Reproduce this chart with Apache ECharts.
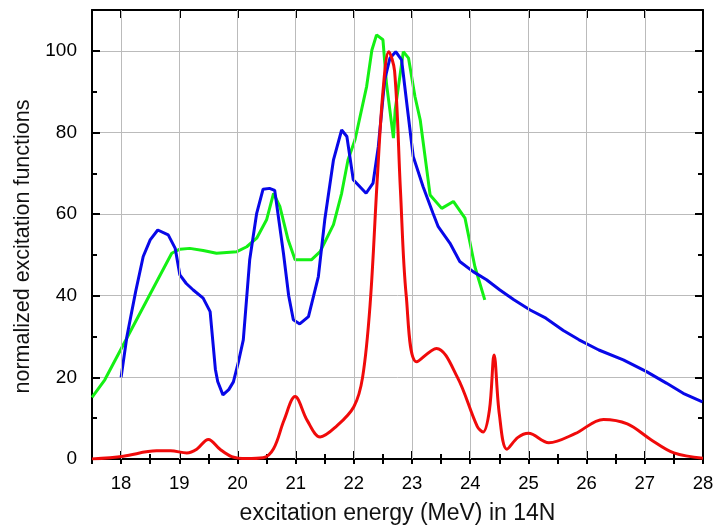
<!DOCTYPE html>
<html>
<head>
<meta charset="utf-8">
<script src="https://cdn.jsdelivr.net/npm/echarts@6/dist/echarts.min.js"></script>
<style>html,body{margin:0;padding:0;background:#fff;}#c{width:717px;height:526px;}</style>
</head>
<body>
<div id="c"></div>
<script>
// ---- data ----
const xTicks = [18, 19, 20, 21, 22, 23, 24, 25, 26, 27, 28];
const xGridLines = [18, 19, 20, 21, 22, 23, 24, 25, 26, 27];
const yTicks = [0, 20, 40, 60, 80, 100];

const blueEnergy = [18.0,18.1,18.25,18.38,18.5,18.63,18.81,18.93,19.01,19.12,19.24,19.41,19.53,19.62,19.66,19.75,19.85,19.93,20.02,20.1,20.21,20.33,20.44,20.55,20.64,20.79,20.88,20.96,21.07,21.22,21.39,21.5,21.65,21.79,21.88,21.99,22.21,22.33,22.42,22.53,22.62,22.72,22.82,22.93,23.02,23.19,23.36,23.45,23.65,23.82,24.05,24.28,24.51,24.75,25.03,25.3,25.6,25.87,26.21,26.63,27.03,27.37,27.66,27.99];
const blueValues = [20,30,41,49.6,53.7,56.1,54.9,51.6,45.1,43,41.4,39.4,36.1,22,19,15.7,17,18.9,24,29.2,48.8,60.2,66.1,66.3,65.8,50.4,40,34.1,33.1,34.9,44.7,58.6,73.3,80.6,79,68.4,65.1,67.6,76.5,92.9,98.2,99.8,97.8,84.7,74.1,66.7,60.2,56.9,52.9,48.4,45.9,43.9,41.4,39,36.5,34.5,31.5,29.2,26.7,24.3,21.4,18.6,16.1,14.0];

const greenEnergy = [17.5,17.72,18.87,19.01,19.18,19.41,19.64,19.99,20.16,20.33,20.5,20.62,20.73,20.87,20.99,21.27,21.42,21.65,21.79,21.9,22.02,22.22,22.31,22.39,22.5,22.56,22.68,22.71,22.85,22.94,23.05,23.14,23.31,23.51,23.71,23.91,24.08,24.25];
const greenValues = [15.1,19.4,50.4,51.4,51.6,51.1,50.4,50.8,52,54.1,58.6,65.1,61.8,53.7,48.8,48.8,50.8,57.4,65.1,73.3,78.2,91.3,100.2,103.9,102.7,92.1,78.6,85.5,99.8,98.2,88.8,83.1,64.7,61.4,63.1,59,47.1,39];

const redEnergy = [17.5,18.04,18.61,18.85,19.13,19.3,19.5,19.7,19.9,20.15,20.44,20.62,20.8,20.99,21.2,21.42,21.7,22.0,22.15,22.28,22.4,22.5,22.6,22.7,22.8,22.9,23.08,23.42,23.78,24.12,24.22,24.33,24.41,24.5,24.63,24.82,25.0,25.35,25.8,26.29,26.7,27.1,27.5,28.0];
const redValues = [0,0.7,2.0,2.0,1.5,2.4,4.8,2.4,0.6,0.1,0.3,2.5,9.5,15.3,9.4,5.4,8.0,12.8,20,38,68,90,99.8,95,66,40,23.8,27.1,20,8,6.6,12,25.5,11,2.4,5.3,6.3,4,6.2,9.7,8.6,4.8,1.5,0.2];

const zip = (a, b) => a.map((v, i) => [v, b[i]]);

const FONT = 'Liberation Sans, Arial, sans-serif';
const X_MIN = 17.5, X_MAX = 28, Y_MIN = 0, Y_MAX = 110;

const chart = echarts.init(document.getElementById('c'), null, {renderer: 'canvas'});

function xAx(opts) {
  return Object.assign({
    type: 'value', min: X_MIN, max: X_MAX, gridIndex: 0,
    axisLine: {show: false}, axisLabel: {show: false},
    axisTick: {show: false}, splitLine: {show: false}
  }, opts);
}
function yAx(opts) {
  return Object.assign({
    type: 'value', min: Y_MIN, max: Y_MAX, gridIndex: 0,
    axisLine: {show: false}, axisLabel: {show: false},
    axisTick: {show: false}, splitLine: {show: false}
  }, opts);
}

const option = {
  backgroundColor: '#fff',
  animation: false,
  grid: {left: 92, right: 14, top: 10, bottom: 67, containLabel: false, outerBoundsMode: 'none'},
  xAxis: [
    xAx({
      position: 'bottom',
      name: 'excitation energy (MeV) in 14N',
      nameLocation: 'middle', nameGap: 43,
      nameTextStyle: {fontFamily: FONT, fontSize: 23, color: '#111'},
      axisLine: {show: true, onZero: false, lineStyle: {color: '#000', width: 2}},
      axisTick: {show: true, inside: true, length: 8, customValues: xTicks, lineStyle: {color: '#000', width: 2}},
      axisLabel: {show: true, customValues: xTicks, margin: 15, fontFamily: FONT, fontSize: 18.5, color: '#000'}
    }),
    xAx({
      position: 'bottom', interval: 0.5,
      axisTick: {show: true, inside: true, length: 5, lineStyle: {color: '#000', width: 2}}
    }),
    xAx({
      position: 'top',
      axisLine: {show: true, onZero: false, lineStyle: {color: '#000', width: 2}},
      axisTick: {show: true, inside: true, length: 8, customValues: xTicks, lineStyle: {color: '#000', width: 2}}
    }),
    xAx({
      position: 'top', interval: 0.5,
      axisTick: {show: true, inside: true, length: 5, lineStyle: {color: '#000', width: 2}}
    })
  ],
  yAxis: [
    yAx({
      position: 'left', interval: 20,
      name: 'normalized excitation functions',
      nameLocation: 'middle', nameGap: 58,
      nameTextStyle: {fontFamily: FONT, fontSize: 21.5, color: '#111', padding: [0, 24, 0, 0]},
      axisLine: {show: true, onZero: false, lineStyle: {color: '#000', width: 2}},
      axisTick: {show: true, inside: true, length: 8, lineStyle: {color: '#000', width: 2}},
      axisLabel: {show: true, margin: 15, fontFamily: FONT, fontSize: 19, color: '#000',
        formatter: v => (yTicks.indexOf(v) >= 0 ? String(v) : '')},
      splitLine: {show: true, lineStyle: {color: '#bbb', width: 1}}
    }),
    yAx({
      position: 'left', interval: 10,
      axisTick: {show: true, inside: true, length: 5, lineStyle: {color: '#000', width: 2}}
    }),
    yAx({
      position: 'right', interval: 20,
      axisLine: {show: true, onZero: false, lineStyle: {color: '#000', width: 2}},
      axisTick: {show: true, inside: true, length: 8, lineStyle: {color: '#000', width: 2}}
    }),
    yAx({
      position: 'right', interval: 10,
      axisTick: {show: true, inside: true, length: 5, lineStyle: {color: '#000', width: 2}}
    })
  ],
  series: [
    {type: 'line', name: 'grid', xAxisIndex: 0, yAxisIndex: 0, data: [], z: 1, silent: true,
      markLine: {silent: true, symbol: 'none', label: {show: false}, animation: false,
        lineStyle: {color: '#bbb', width: 1, type: 'solid'},
        data: xGridLines.map(v => ({xAxis: v}))}},
    {type: 'line', name: 'green', xAxisIndex: 0, yAxisIndex: 0, data: zip(greenEnergy, greenValues),
      showSymbol: false, smooth: false, lineStyle: {color: '#14f014', width: 3}, z: 3},
    {type: 'line', name: 'blue', xAxisIndex: 0, yAxisIndex: 0, data: zip(blueEnergy, blueValues),
      showSymbol: false, smooth: false, lineStyle: {color: '#0808e8', width: 3}, z: 4},
    {type: 'line', name: 'red', xAxisIndex: 0, yAxisIndex: 0, data: zip(redEnergy, redValues),
      showSymbol: false, smooth: 0.35, lineStyle: {color: '#f00a0a', width: 3}, z: 5}
  ]
};
chart.setOption(option);
</script>
</body>
</html>
